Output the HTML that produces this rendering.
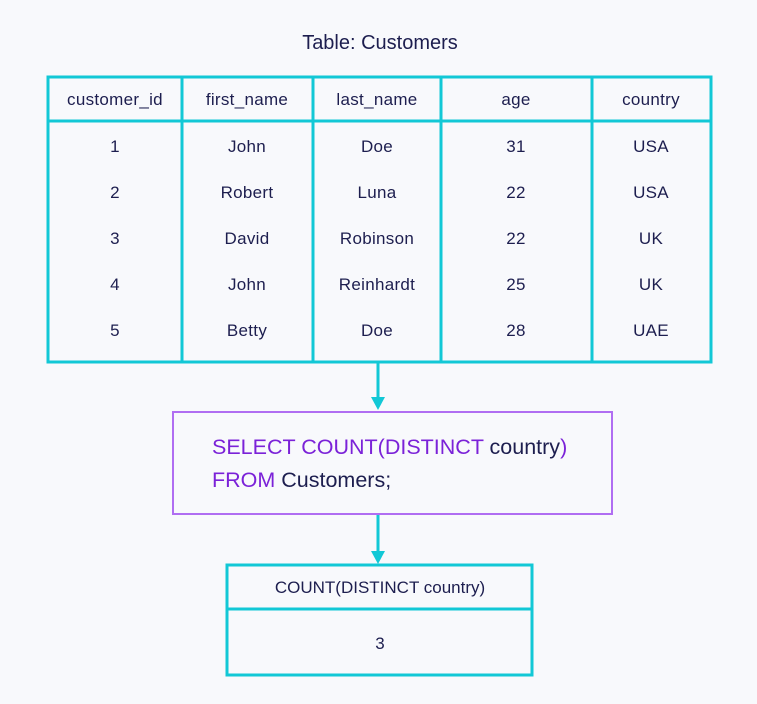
<!DOCTYPE html>
<html><head><meta charset="utf-8"><style>
html,body{margin:0;padding:0;background:#f8f9fc;}
svg{display:block;}
text{font-family:"Liberation Sans",sans-serif;fill:#1d1e4f;}
</style></head><body>
<svg width="757" height="704" viewBox="0 0 757 704" xmlns="http://www.w3.org/2000/svg">
<rect width="757" height="704" fill="#f8f9fc"/>
<text x="380" y="49" font-size="20" text-anchor="middle">Table: Customers</text>
<g stroke="#12c8d6" stroke-width="3" fill="none">
<rect x="48" y="77" width="663" height="285"/>
<line x1="48" y1="121" x2="711" y2="121"/>
<line x1="182" y1="77" x2="182" y2="362"/>
<line x1="313" y1="77" x2="313" y2="362"/>
<line x1="441" y1="77" x2="441" y2="362"/>
<line x1="592" y1="77" x2="592" y2="362"/>
</g>
<g font-size="17" text-anchor="middle" letter-spacing="0.3">
<text x="115" y="105">customer_id</text><text x="247" y="105">first_name</text><text x="377" y="105">last_name</text><text x="516" y="105">age</text><text x="651" y="105">country</text>
<text x="115" y="152">1</text><text x="247" y="152">John</text><text x="377" y="152">Doe</text><text x="516" y="152">31</text><text x="651" y="152">USA</text>
<text x="115" y="198">2</text><text x="247" y="198">Robert</text><text x="377" y="198">Luna</text><text x="516" y="198">22</text><text x="651" y="198">USA</text>
<text x="115" y="244">3</text><text x="247" y="244">David</text><text x="377" y="244">Robinson</text><text x="516" y="244">22</text><text x="651" y="244">UK</text>
<text x="115" y="290">4</text><text x="247" y="290">John</text><text x="377" y="290">Reinhardt</text><text x="516" y="290">25</text><text x="651" y="290">UK</text>
<text x="115" y="336">5</text><text x="247" y="336">Betty</text><text x="377" y="336">Doe</text><text x="516" y="336">28</text><text x="651" y="336">UAE</text>
</g>
<line x1="378" y1="362" x2="378" y2="398" stroke="#12c8d6" stroke-width="3"/>
<polygon points="371,397 385,397 378,410" fill="#12c8d6"/>
<rect x="173" y="412" width="439" height="102" fill="none" stroke="#b06ef2" stroke-width="2"/>
<text x="212" y="454" font-size="21.5"><tspan fill="#7b22d8">SELECT COUNT(DISTINCT</tspan> country<tspan fill="#7b22d8">)</tspan></text>
<text x="212" y="487" font-size="21.5"><tspan fill="#7b22d8">FROM</tspan> Customers;</text>
<line x1="378" y1="515" x2="378" y2="552" stroke="#12c8d6" stroke-width="3"/>
<polygon points="371,551 385,551 378,564" fill="#12c8d6"/>
<g stroke="#12c8d6" stroke-width="3" fill="none">
<rect x="227" y="565" width="305" height="110"/>
<line x1="227" y1="609" x2="532" y2="609"/>
</g>
<text x="380" y="593" font-size="17" text-anchor="middle">COUNT(DISTINCT country)</text>
<text x="380" y="649" font-size="17" text-anchor="middle">3</text>
</svg>
</body></html>
